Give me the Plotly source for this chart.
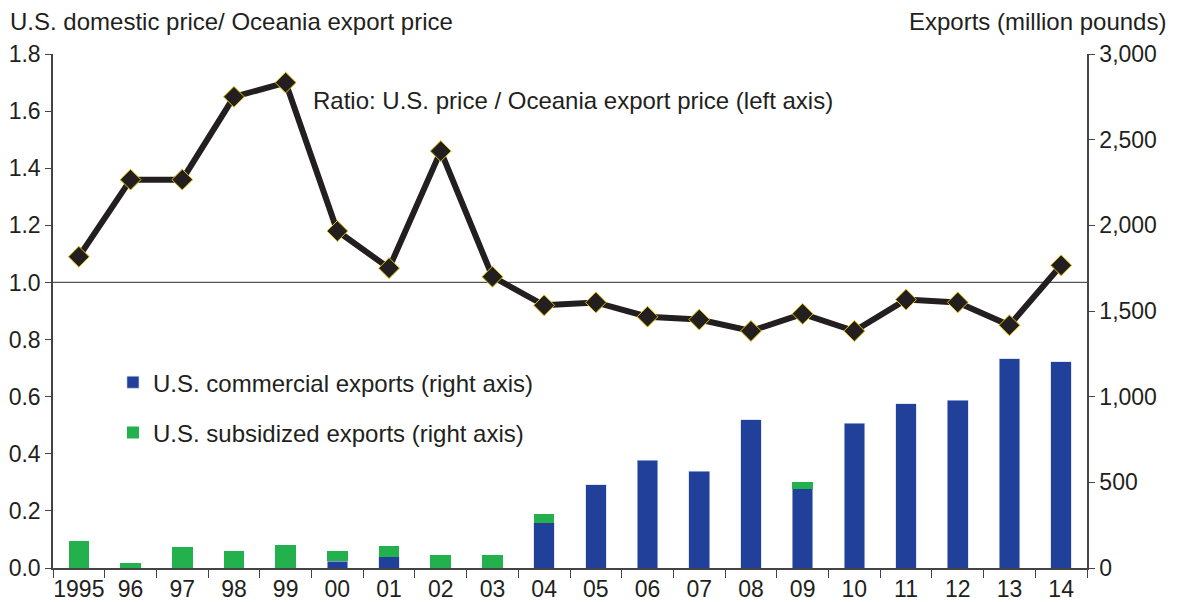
import plotly.graph_objects as go

years = ["1995", "96", "97", "98", "99", "00", "01", "02", "03", "04",
         "05", "06", "07", "08", "09", "10", "11", "12", "13", "14"]
ratio = [1.09, 1.36, 1.36, 1.65, 1.70, 1.18, 1.05, 1.46, 1.02, 0.92,
         0.93, 0.88, 0.87, 0.83, 0.89, 0.83, 0.94, 0.93, 0.85, 1.06]
commercial = [0, 0, 0, 0, 0, 39, 67, 0, 0, 263,
              487, 630, 566, 864, 463, 845, 959, 979, 1222, 1203]
subsidized = [155, 31, 120, 102, 137, 63, 64, 73, 73, 51,
              0, 0, 0, 0, 41, 0, 0, 0, 0, 0]

txt = "#231f20"
font = "Liberation Sans, Arial, Helvetica, sans-serif"
fs = 23   # tick labels
ts = 24   # titles, note, legend

fig = go.Figure()

fig.add_trace(go.Bar(
    x=years, y=commercial, name="U.S. commercial exports (right axis)",
    marker=dict(color="#21409a", line=dict(color="#c9d3ec", width=0.6)),
    width=0.4, yaxis="y", legendgroup="a",
))
fig.add_trace(go.Bar(
    x=years, y=subsidized, name="U.S. subsidized exports (right axis)",
    marker=dict(color="#22b14c", line=dict(width=0)),
    width=0.4, yaxis="y", legendgroup="b",
))
fig.add_trace(go.Scatter(
    x=years, y=ratio, mode="lines+markers", yaxis="y2",
    line=dict(color=txt, width=6),
    marker=dict(symbol="diamond", size=16, color=txt,
                line=dict(color="#e0c000", width=1)),
    showlegend=False,
))

axis_common = dict(showline=True, linecolor="#444", linewidth=1.5,
                   ticks="outside", tickcolor="#444", showgrid=False,
                   zeroline=False, automargin=False,
                   tickfont=dict(size=fs, color=txt))

# page body has an 8px margin, so the figure is a bit smaller than the window
fig.update_layout(
    width=1171, height=594,
    margin=dict(l=45, r=92, t=46, b=34),
    paper_bgcolor="white", plot_bgcolor="white",
    barmode="stack",
    font=dict(family=font, size=fs, color=txt),
    showlegend=True,
    legend=dict(x=0.058, y=0.312, xanchor="left", yanchor="middle",
                bgcolor="rgba(0,0,0,0)", font=dict(size=ts, color=txt),
                tracegroupgap=16, itemwidth=30),
    xaxis=dict(type="category", range=[-0.5, 19.5], tickson="boundaries",
               tickangle=0, ticklen=8, **axis_common),
    yaxis=dict(side="right", range=[0, 3000],
               tickvals=[0, 500, 1000, 1500, 2000, 2500, 3000],
               tickformat=",", ticklen=6, **axis_common),
    yaxis2=dict(overlaying="y", side="left", range=[0, 1.8], dtick=0.2,
                tickformat=".1f", ticklen=6, **axis_common),
)

# reference line at ratio 1.0
fig.add_shape(type="line", xref="paper", yref="y2", x0=0, x1=1, y0=1.0, y1=1.0,
              line=dict(color="#555", width=1.2), layer="below")

fig.add_annotation(text="U.S. domestic price/ Oceania export price", xref="paper", yref="paper",
                   x=-0.0435, y=1.0, xanchor="left", yanchor="middle", yshift=33,
                   showarrow=False, font=dict(size=ts, color=txt))
fig.add_annotation(text="Exports (million pounds)", xref="paper", yref="paper",
                   x=1.078, y=1.0, xanchor="right", yanchor="middle", yshift=33,
                   showarrow=False, font=dict(size=ts, color=txt))
fig.add_annotation(text="Ratio: U.S. price / Oceania export price (left axis)",
                   xref="paper", yref="paper", x=0.2495, y=0.9105,
                   xanchor="left", yanchor="middle", showarrow=False,
                   font=dict(size=ts, color=txt))

fig.write_html("out.html")
